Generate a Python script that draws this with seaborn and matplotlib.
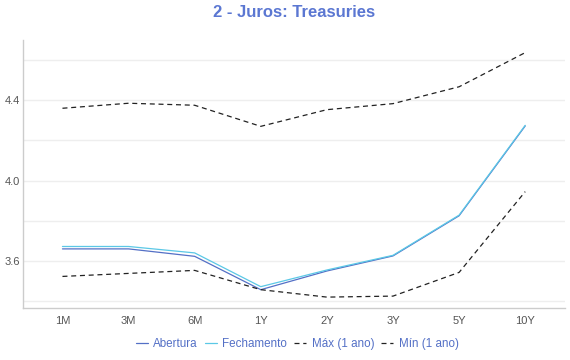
import pandas as pd
import numpy as np
import matplotlib
matplotlib.use('Agg')
import matplotlib.pyplot as plt
import seaborn as sns

# Dados
vencimentos = ['1M', '3M', '6M', '1Y', '2Y', '3Y', '5Y', '10Y']
abertura = [3.660, 3.660, 3.623, 3.457, 3.550, 3.625, 3.825, 4.272]
fechamento = [3.672, 3.672, 3.640, 3.472, 3.555, 3.628, 3.828, 4.275]
maximo = [4.360, 4.385, 4.375, 4.270, 4.353, 4.383, 4.467, 4.637]
minimo = [3.523, 3.538, 3.553, 3.457, 3.420, 3.425, 3.543, 3.945]

series = ['Abertura', 'Fechamento', 'Máx (1 ano)', 'Mín (1 ano)']
cores = {'Abertura': '#5470c6', 'Fechamento': '#5bc8e6',
         'Máx (1 ano)': '#222222', 'Mín (1 ano)': '#222222'}
tracos = {'Abertura': '', 'Fechamento': '',
          'Máx (1 ano)': (4, 3), 'Mín (1 ano)': (4, 3)}

df = pd.DataFrame({
    'Vencimento': vencimentos * 4,
    'x': list(range(len(vencimentos))) * 4,
    'Taxa': abertura + fechamento + maximo + minimo,
    'Serie': np.repeat(series, len(vencimentos)),
})

sns.set_theme(style='white')
plt.rcParams['font.family'] = ['Liberation Sans', 'DejaVu Sans']

fig = plt.figure(figsize=(5.7, 3.6), dpi=100)
ax = fig.add_axes([0.040, 0.144, 0.951, 0.745])

sns.lineplot(data=df, x='x', y='Taxa', hue='Serie', style='Serie',
             palette=cores, dashes=tracos, hue_order=series, style_order=series,
             linewidth=0.9, ax=ax, legend=False)

ax.set_xlim(-0.6, 7.6)
ax.set_ylim(3.365, 4.70)
ax.set_xticks(range(len(vencimentos)))
ax.set_xticklabels(vencimentos)
ax.set_yticks([3.6, 4.0, 4.4])
ax.set_yticks([3.4, 3.8, 4.2, 4.6], minor=True)
ax.yaxis.set_major_formatter(matplotlib.ticker.FormatStrFormatter('%.1f'))
ax.grid(True, axis='y', which='both', color='#eeeeee', linewidth=1)
ax.set_axisbelow(True)
ax.tick_params(axis='both', which='both', length=0, labelsize=8, colors='#555555')
ax.tick_params(axis='y', pad=2.2)
ax.tick_params(axis='x', pad=6)
ax.set_xlabel('')
ax.set_ylabel('')
for lado in ['top', 'right']:
    ax.spines[lado].set_visible(False)
for lado in ['left', 'bottom']:
    ax.spines[lado].set_color('#cccccc')
    ax.spines[lado].set_linewidth(1)

fig.suptitle('2 - Juros: Treasuries', x=0.516, y=0.985, fontsize=12,
             fontweight='bold', color='#5b77d2')

handles = [matplotlib.lines.Line2D([], [], color=cores[s], lw=0.9,
                                   dashes=tracos[s] if tracos[s] else (None, None))
           for s in series]
leg = fig.legend(handles, series, loc='center', bbox_to_anchor=(0.521, 0.045),
                 ncol=4, frameon=False, fontsize=8.4, handlelength=1.05,
                 handletextpad=0.45, columnspacing=0.6)
for t in leg.get_texts():
    t.set_color('#5470c6')

fig.savefig('out.png', dpi=100)
